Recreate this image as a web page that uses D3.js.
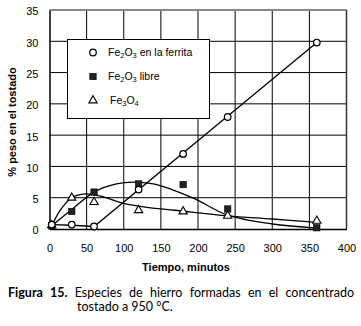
<!DOCTYPE html>
<html>
<head>
<meta charset="utf-8">
<script src="https://cdn.jsdelivr.net/npm/d3@7"></script>
<style>
  html, body { margin: 0; padding: 0; background: #fff; }
  svg { display: block; }
</style>
</head>
<body>
<svg id="chart" width="361" height="326"></svg>
<script>
// Roasting time (minutes) and weight % of each iron species
const times = [3, 30, 60, 120, 180, 240, 360];
const ferrita = [0.7, 0.7, 0.4, 6.3, 12.0, 17.9, 29.8];
const libre = [0.5, 2.8, 5.9, 7.2, 7.1, 3.2, 0.2];
const magnetita = [0.6, 5.0, 4.3, 3.0, 2.8, 2.1, 1.3];

// Trend lines drawn through each series
const ferritaTrend = [[3, 0.7], [30, 0.6], [60, 0.4], [360, 29.8]];
const libreTrend = [[3, 0.5], [30, 3.1], [60, 5.9], [90, 7.2], [113, 7.5], [140, 7.2],
                    [165, 6.3], [196, 4.8], [240, 2.2], [300, 0.8], [360, 0.15]];
const magnetitaTrend = [[3, 0.5], [15, 3.1], [30, 5.0], [48, 5.6], [70, 5.2], [100, 4.1],
                        [129, 3.5], [169, 3.0], [240, 2.1], [300, 1.6], [360, 1.05]];

const xTicks = [0, 50, 100, 150, 200, 250, 300, 350, 400];
const yTicks = [0, 5, 10, 15, 20, 25, 30, 35];

const legendItems = [
  { sym: "circle", parts: [["Fe"], ["2", true], ["O"], ["3", true], [" en la ferrita"]] },
  { sym: "square", parts: [["Fe"], ["2", true], ["O"], ["3", true], [" libre"]] },
  { sym: "triangle", parts: [["Fe"], ["3", true], ["O"], ["4", true]] }
];

const svg = d3.select("#chart");
const font = "'Liberation Sans', Arial, sans-serif";

const x = d3.scaleLinear().domain([0, 400]).range([49.5, 346.5]);
const y = d3.scaleLinear().domain([0, 35]).range([229, 10]);

// grid
const grid = svg.append("g");
grid.selectAll("line.v").data(xTicks.filter(d => d > 0 && d < 400)).join("line")
  .attr("x1", d => x(d)).attr("x2", d => x(d))
  .attr("y1", y(0)).attr("y2", y(35))
  .attr("stroke", "#000").attr("stroke-width", 1);
grid.selectAll("line.h").data(yTicks.filter(d => d > 0 && d < 35)).join("line")
  .attr("x1", x(0)).attr("x2", x(400))
  .attr("y1", d => y(d)).attr("y2", d => y(d))
  .attr("stroke", "#000").attr("stroke-width", 1);

// frame
svg.append("line").attr("x1", x(0)).attr("x2", x(400)).attr("y1", y(35)).attr("y2", y(35))
  .attr("stroke", "#888").attr("stroke-width", 2);
svg.append("line").attr("x1", x(400)).attr("x2", x(400)).attr("y1", y(35)).attr("y2", y(0))
  .attr("stroke", "#333").attr("stroke-width", 1.5);

// axes
const xAxis = svg.append("g").attr("transform", `translate(0,${y(0)})`)
  .call(d3.axisBottom(x).tickValues(xTicks).tickSize(0).tickPadding(15));
const yAxis = svg.append("g").attr("transform", `translate(${x(0)},0)`)
  .call(d3.axisLeft(y).tickValues(yTicks).tickSize(0).tickPadding(11));
[xAxis, yAxis].forEach(a => {
  a.select(".domain").attr("stroke", "#000").attr("stroke-width", 1.5);
  a.selectAll("text").attr("font-family", font).attr("font-size", 11).attr("fill", "#000");
});
yAxis.selectAll("text").attr("dy", "0.45em");

// trend curves
const line = d3.line().x(d => x(d[0])).y(d => y(d[1]));
const curve = d3.line().x(d => x(d[0])).y(d => y(d[1])).curve(d3.curveCatmullRom.alpha(0.5));
svg.append("path").attr("d", line(ferritaTrend)).attr("fill", "none").attr("stroke", "#000").attr("stroke-width", 1.3);
svg.append("path").attr("d", curve(libreTrend)).attr("fill", "none").attr("stroke", "#000").attr("stroke-width", 1.3);
svg.append("path").attr("d", curve(magnetitaTrend)).attr("fill", "none").attr("stroke", "#000").attr("stroke-width", 1.3);

// markers
function drawSymbol(g, sym) {
  if (sym === "circle") {
    g.append("circle").attr("r", 3.3).attr("fill", "#fff").attr("stroke", "#000").attr("stroke-width", 1.2);
  } else if (sym === "square") {
    g.append("rect").attr("x", -3.2).attr("y", -3.2).attr("width", 6.4).attr("height", 6.4)
      .attr("fill", "#222").attr("stroke", "#000").attr("stroke-width", 0.6);
  } else {
    g.append("path").attr("d", d3.symbol(d3.symbolTriangle, 30)())
      .attr("fill", "#fff").attr("stroke", "#000").attr("stroke-width", 1.1);
  }
}
const series = [
  { sym: "square", vals: libre },
  { sym: "triangle", vals: magnetita },
  { sym: "circle", vals: ferrita }
];
series.forEach(s => {
  times.forEach((t, i) => {
    const g = svg.append("g").attr("transform", `translate(${x(t)},${y(s.vals[i])})`);
    drawSymbol(g, s.sym);
  });
});

// legend
const lg = svg.append("g");
lg.append("rect").attr("x", 67.5).attr("y", 39.5).attr("width", 142).attr("height", 79)
  .attr("fill", "#fff").attr("stroke", "#000").attr("stroke-width", 1);
legendItems.forEach((it, i) => {
  const cy = 52.5 + i * 24;
  const g = lg.append("g").attr("transform", `translate(93,${cy})`);
  drawSymbol(g, it.sym);
  const t = lg.append("text").attr("x", it.sym === "triangle" ? 110 : 108).attr("y", cy + 3.8)
    .attr("font-family", font).attr("font-size", 10.5).attr("fill", "#000");
  it.parts.forEach(p => {
    const ts = t.append("tspan").text(p[0]);
    if (p[1]) ts.attr("font-size", 7.5).attr("dy", 1.2);
    else if (t.selectAll("tspan").size() > 1) ts.attr("dy", -1.2);
  });
});

// axis titles
svg.append("text").attr("x", 186).attr("y", 271).attr("text-anchor", "middle")
  .attr("font-family", font).attr("font-size", 11).attr("font-weight", "bold").text("Tiempo, minutos");
svg.append("text").attr("transform", "translate(16,122) rotate(-90)").attr("text-anchor", "middle")
  .attr("font-family", font).attr("font-size", 11).attr("font-weight", "bold").text("% peso en el tostado");

// caption, first line justified across the width
const capFont = "Lato, 'Open Sans', sans-serif";
const capWords = [["Figura", true], ["15.", true], ["Especies", false], ["de", false], ["hierro", false],
  ["formadas", false], ["en", false], ["el", false], ["concentrado", false]];
const capLeft = 8, capRight = 354, capSize = 12.5;
const cap = svg.append("g").attr("font-family", capFont).attr("font-size", capSize).attr("fill", "#000");
const nodes = capWords.map(w => cap.append("text").attr("y", 297)
  .attr("font-weight", w[1] ? "bold" : "normal").text(w[0]));
const widths = nodes.map(n => n.node().getComputedTextLength());
const gap = (capRight - capLeft - d3.sum(widths)) / (nodes.length - 1);
let cx = capLeft;
nodes.forEach((n, i) => { n.attr("x", cx); cx += widths[i] + gap; });
cap.append("text").attr("x", 77).attr("y", 311).text("tostado a 950 °C.");
</script>
</body>
</html>
